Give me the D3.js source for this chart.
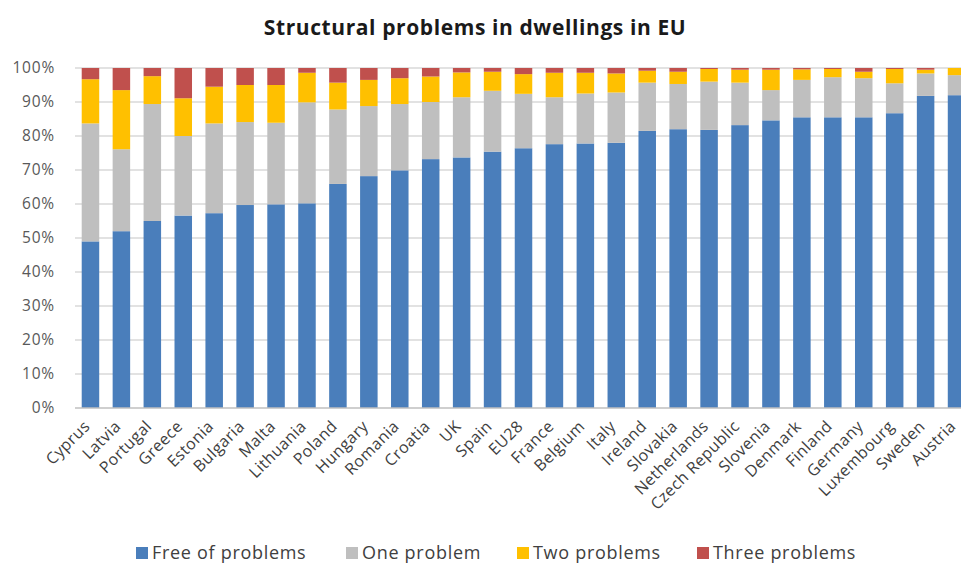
<!DOCTYPE html>
<html>
<head>
<meta charset="utf-8">
<script src="https://cdn.jsdelivr.net/npm/d3@7"></script>
<style>
  html, body { margin: 0; padding: 0; background: #fff; overflow: hidden; }
  svg { display: block; }
</style>
</head>
<body>
<svg id="chart" width="961" height="565"></svg>
<script>
const categories = ["Cyprus","Latvia","Portugal","Greece","Estonia","Bulgaria","Malta","Lithuania","Poland","Hungary","Romania","Croatia","UK","Spain","EU28","France","Belgium","Italy","Ireland","Slovakia","Netherlands","Czech Republic","Slovenia","Denmark","Finland","Germany","Luxembourg","Sweden","Austria"];
const freeOfProblems = [49, 52, 55, 56.6, 57.3, 59.7, 59.9, 60.2, 65.9, 68.2, 69.9, 73.2, 73.7, 75.4, 76.4, 77.6, 77.8, 78, 81.5, 82, 81.8, 83.2, 84.6, 85.5, 85.5, 85.5, 86.7, 91.8, 92];
const oneProblem = [34.7, 24.1, 34.4, 23.4, 26.4, 24.4, 24, 29.7, 21.9, 20.6, 19.5, 16.8, 17.7, 17.9, 16, 13.8, 14.7, 14.8, 14.2, 13.3, 14.2, 12.5, 8.9, 11, 11.8, 11.5, 8.8, 6.6, 5.9];
const twoProblems = [13, 17.4, 8.2, 11.1, 10.8, 10.9, 11.1, 8.7, 7.9, 7.7, 7.6, 7.5, 7.3, 5.6, 5.8, 7.2, 6.1, 5.6, 3.5, 3.6, 3.7, 3.8, 6, 3.1, 2.4, 1.9, 4.2, 1.1, 2.1];
const threeProblems = [3.3, 6.5, 2.4, 8.9, 5.5, 5, 5, 1.4, 4.3, 3.5, 3, 2.5, 1.3, 1.1, 1.8, 1.4, 1.4, 1.6, 0.8, 1.1, 0.3, 0.5, 0.5, 0.4, 0.3, 1.1, 0.3, 0.5, 0];
const seriesNames = ["Free of problems", "One problem", "Two problems", "Three problems"];
const seriesColors = ["#4a7ebb", "#bfbfbf", "#ffc000", "#c0504d"];
const yTicks = [0, 10, 20, 30, 40, 50, 60, 70, 80, 90, 100];
const titleText = "Structural problems in dwellings in EU";

const svg = d3.select("#chart");
const W = 961, H = 565;
const plot = { left: 75, right: 972, top: 68, bottom: 408 };

const rows = categories.map((c, i) => ({
  category: c,
  "Free of problems": freeOfProblems[i],
  "One problem": oneProblem[i],
  "Two problems": twoProblems[i],
  "Three problems": threeProblems[i]
}));
const stacked = d3.stack().keys(seriesNames)(rows);

const x = d3.scaleBand().domain(categories).range([plot.left, plot.right]).paddingInner(0.434).paddingOuter(0.217);
const y = d3.scaleLinear().domain([0, 100]).range([plot.bottom, plot.top]);
const color = d3.scaleOrdinal().domain(seriesNames).range(seriesColors);

// title
svg.append("text")
  .attr("x", 475).attr("y", 35)
  .attr("text-anchor", "middle")
  .attr("font-family", "'Open Sans', sans-serif")
  .attr("font-weight", "bold")
  .attr("font-size", 21)
  .attr("letter-spacing", 0.6)
  .attr("fill", "#1a1a1a")
  .text(titleText);

// gridlines
svg.append("g").selectAll("line")
  .data(yTicks.filter(t => t > 0))
  .join("line")
  .attr("x1", plot.left).attr("x2", W)
  .attr("y1", d => y(d)).attr("y2", d => y(d))
  .attr("stroke", "#d9d9d9").attr("stroke-width", 1.5);

// y axis labels
const yAxis = d3.axisLeft(y).tickValues(yTicks).tickFormat(d => d + "%").tickSize(0).tickPadding(20);
const gy = svg.append("g").attr("transform", `translate(${plot.left},0)`).call(yAxis);
gy.select(".domain").remove();
gy.selectAll("text")
  .attr("font-family", "'Open Sans', sans-serif")
  .attr("font-size", 15.5)
  .attr("letter-spacing", 0.8)
  .attr("fill", "#595959");

// bars
svg.append("g").selectAll("g")
  .data(stacked)
  .join("g")
  .attr("fill", d => color(d.key))
  .selectAll("rect")
  .data(d => d)
  .join("rect")
  .attr("x", d => x(d.data.category))
  .attr("width", x.bandwidth())
  .attr("y", d => y(d[1]))
  .attr("height", d => Math.max(0, y(d[0]) - y(d[1])));

// baseline
svg.append("line")
  .attr("x1", plot.left).attr("x2", W)
  .attr("y1", y(0)).attr("y2", y(0))
  .attr("stroke", "#bfbfbf").attr("stroke-width", 1.5);

// x axis labels
const xAxis = d3.axisBottom(x).tickSize(0).tickPadding(0);
const gx = svg.append("g").attr("transform", `translate(0,${plot.bottom})`).call(xAxis);
gx.select(".domain").remove();
gx.selectAll("text")
  .attr("font-family", "'Open Sans', sans-serif")
  .attr("font-size", 16)
  .attr("letter-spacing", 0.4)
  .attr("fill", "#404040")
  .attr("text-anchor", "end")
  .attr("dy", "0.3em")
  .attr("transform", "translate(-3,16) rotate(-45)");

// legend
const legendX = [136, 346, 517, 697];
const legend = svg.append("g").selectAll("g")
  .data(seriesNames)
  .join("g")
  .attr("transform", (d, i) => `translate(${legendX[i]},553)`);
legend.append("rect")
  .attr("x", 0).attr("y", -6).attr("width", 12).attr("height", 12)
  .attr("fill", d => color(d));
legend.append("text")
  .attr("x", 16).attr("y", 0).attr("dy", "0.35em")
  .attr("font-family", "'Open Sans', sans-serif")
  .attr("font-size", 18)
  .attr("letter-spacing", 0.7)
  .attr("fill", "#404040")
  .text(d => d);
</script>
</body>
</html>
